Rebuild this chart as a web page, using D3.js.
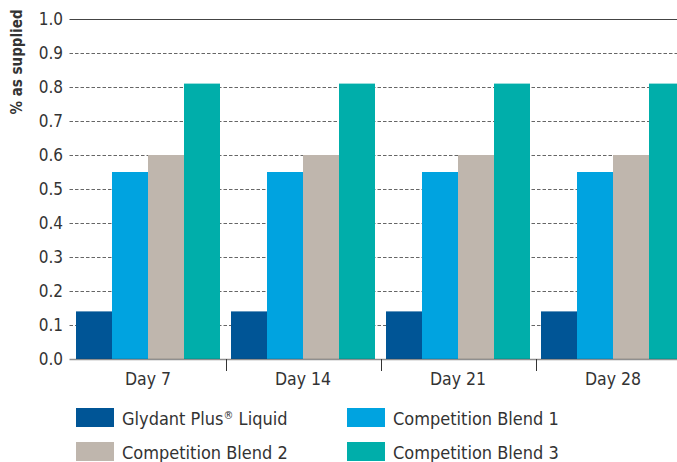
<!DOCTYPE html>
<html>
<head>
<meta charset="utf-8">
<script src="https://cdn.jsdelivr.net/npm/d3@7"></script>
<style>
  body { margin: 0; background: #fff; }
  svg { display: block; font-family: "DejaVu Sans Condensed", "DejaVu Sans", sans-serif; }
</style>
</head>
<body>
<svg width="677" height="462"></svg>
<script>
// data
var days = ['Day 7', 'Day 14', 'Day 21', 'Day 28'];
var seriesNames = ['Glydant Plus® Liquid', 'Competition Blend 1', 'Competition Blend 2', 'Competition Blend 3'];
var seriesColors = ['#005596', '#00a3e0', '#bfb6ad', '#00aeaa'];
var glydant = [0.14, 0.14, 0.14, 0.14];
var blend1 = [0.55, 0.55, 0.55, 0.55];
var blend2 = [0.60, 0.60, 0.60, 0.60];
var blend3 = [0.81, 0.81, 0.81, 0.81];
var yTicks = [0, 0.1, 0.2, 0.3, 0.4, 0.5, 0.6, 0.7, 0.8, 0.9, 1.0];

var svg = d3.select('svg');
var top_ = 19, bottom = 359, left = 69.5;

var rows = days.map(function(d, i) {
  return {day: d, values: [glydant[i], blend1[i], blend2[i], blend3[i]]};
});

var y = d3.scaleLinear().domain([0, 1]).range([bottom, top_]);

// group bands: step 155, the last group runs off the right edge
var x0 = d3.scaleBand()
  .domain(days)
  .range([70.5, 70.5 + 155 * days.length])
  .paddingInner(11 / 155)
  .paddingOuter(5.5 / 155);

var x1 = d3.scaleBand()
  .domain(d3.range(seriesNames.length))
  .range([0, x0.bandwidth()]);

// gridlines
svg.append('g')
  .selectAll('line')
  .data(yTicks.filter(function(t) { return t > 0; }))
  .enter()
  .append('line')
  .attr('x1', left)
  .attr('x2', 677)
  .attr('y1', function(d) { return Math.round(y(d)) + 0.5; })
  .attr('y2', function(d) { return Math.round(y(d)) + 0.5; })
  .attr('stroke', function(d) { return d === 1 ? '#444' : '#666'; })
  .attr('stroke-width', function(d) { return d === 1 ? 1.2 : 1; })
  .attr('stroke-dasharray', function(d) { return d === 1 ? null : '3.5,2'; });

// bars
var groups = svg.append('g')
  .selectAll('g')
  .data(rows)
  .enter()
  .append('g')
  .attr('transform', function(d) { return 'translate(' + x0(d.day) + ',0)'; });

groups.selectAll('rect')
  .data(function(d) { return d.values; })
  .enter()
  .append('rect')
  .attr('x', function(d, i) { return x1(i); })
  .attr('width', x1.bandwidth())
  .attr('y', function(d) { return y(d); })
  .attr('height', function(d) { return y(0) - y(d); })
  .attr('fill', function(d, i) { return seriesColors[i]; });

// baseline over the bars
svg.append('line')
  .attr('x1', left)
  .attr('x2', 677)
  .attr('y1', bottom + 0.5)
  .attr('y2', bottom + 0.5)
  .attr('stroke', '#333')
  .attr('stroke-opacity', 0.55)
  .attr('stroke-width', 1.5);

// separators between groups
svg.append('g')
  .selectAll('line')
  .data(days.slice(1))
  .enter()
  .append('line')
  .attr('x1', function(d) { return Math.round(x0(d) - x0.step() * x0.paddingInner() / 2) + 0.5; })
  .attr('x2', function(d) { return Math.round(x0(d) - x0.step() * x0.paddingInner() / 2) + 0.5; })
  .attr('y1', bottom)
  .attr('y2', bottom + 12)
  .attr('stroke', '#333');

// y tick labels
svg.append('g')
  .selectAll('text')
  .data(yTicks)
  .enter()
  .append('text')
  .attr('x', 63)
  .attr('y', function(d) { return y(d); })
  .attr('dy', '0.36em')
  .attr('text-anchor', 'end')
  .attr('font-size', '17px')
  .attr('fill', '#333')
  .text(function(d) { return d3.format('.1f')(d); });

// x labels
svg.append('g')
  .selectAll('text')
  .data(days)
  .enter()
  .append('text')
  .attr('x', function(d) { return x0(d) + x0.bandwidth() / 2; })
  .attr('y', 385)
  .attr('text-anchor', 'middle')
  .attr('font-size', '17.5px')
  .attr('fill', '#333')
  .text(function(d) { return d; });

// y title
svg.append('text')
  .attr('transform', 'translate(22,62) rotate(-90)')
  .attr('text-anchor', 'middle')
  .attr('font-size', '15px')
  .attr('font-weight', 'bold')
  .attr('fill', '#333')
  .text('% as supplied');

// legend
var legend = svg.append('g')
  .selectAll('g')
  .data(seriesNames)
  .enter()
  .append('g')
  .attr('transform', function(d, i) {
    return 'translate(' + (i % 2 === 0 ? 76 : 347) + ',' + (i < 2 ? 408 : 442) + ')';
  });

legend.append('rect')
  .attr('width', 38)
  .attr('height', 19)
  .attr('fill', function(d, i) { return seriesColors[i]; });

var legendText = legend.append('text')
  .attr('x', 46)
  .attr('y', 17)
  .attr('font-size', '18px')
  .attr('fill', '#333');

// draw the registered sign as a small superscript
legendText.each(function(d) {
  var t = d3.select(this);
  var parts = d.split('®');
  t.append('tspan').text(parts[0]);
  if (parts.length > 1) {
    t.append('tspan').attr('font-size', '11px').attr('dy', -6).text('®');
    t.append('tspan').attr('dy', 6).text(parts[1]);
  }
});
</script>
</body>
</html>
